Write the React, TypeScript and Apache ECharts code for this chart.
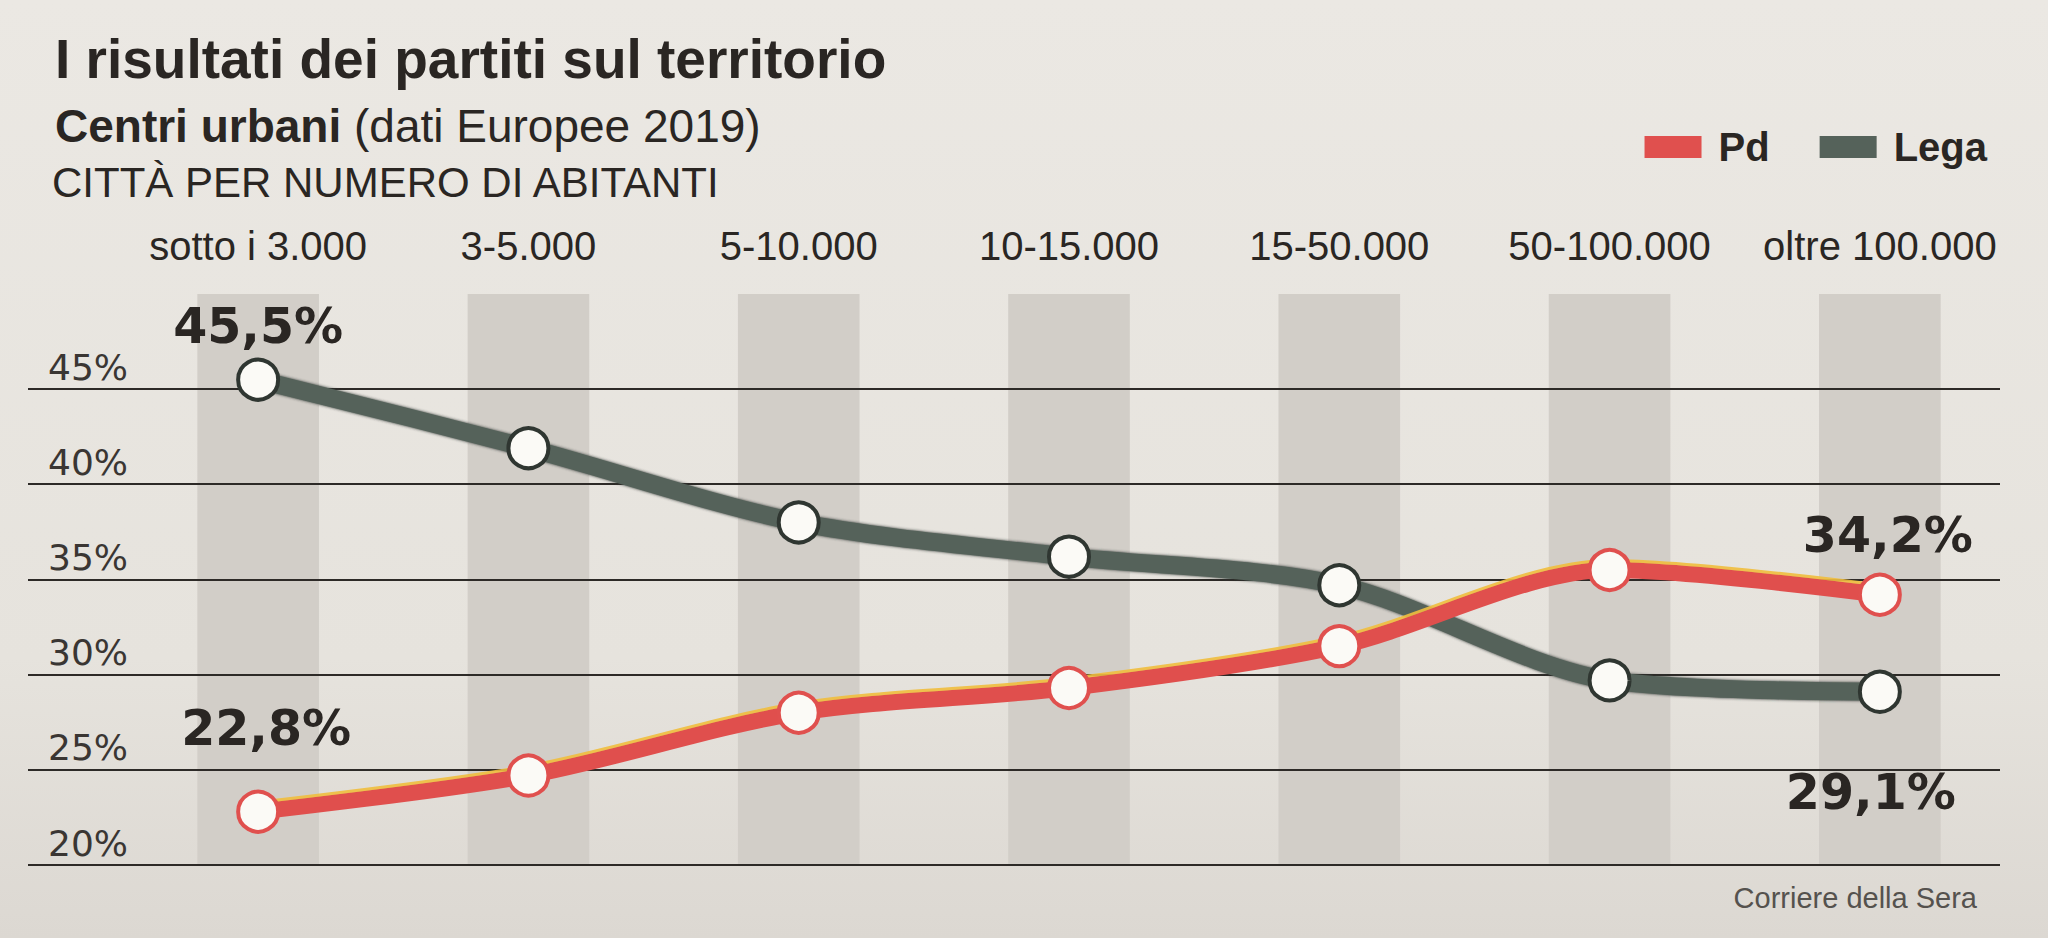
import React, { useEffect, useRef } from "react";
import * as echarts from "echarts";

const categories = ["sotto i 3.000", "3-5.000", "5-10.000", "10-15.000", "15-50.000", "50-100.000", "oltre 100.000"];
const pdValues = [22.8, 24.7, 28.0, 29.3, 31.5, 35.5, 34.2];
const legaValues = [45.5, 41.9, 38.0, 36.2, 34.7, 29.7, 29.1];
const yMin = 20;
const yMax = 45;
const yStep = 5;
const bandTop = 50;

const TEXT = "#2a2623";
const PD_RED = "#e0504e";
const LEGA_GREEN = "#55625a";
const LEGA_DARK = "#2f3631";

const fmt = (v: number) => v.toFixed(1).replace(".", ",") + "%";

export default function App() {
  const ref = useRef<HTMLDivElement>(null);
  useEffect(() => {
    document.body.style.margin = "0";
    const chart = echarts.init(ref.current!, null, { renderer: "svg" });
    const labelBase = {
      show: true,
      formatter: (p: any) => fmt(p.value),
      fontFamily: "DejaVu Sans",
      fontWeight: "bold",
      fontSize: 49,
      lineHeight: 50,
      color: TEXT,
    };
    const pdData = pdValues.map((v, i) => {
      if (i === 0) return { value: v, label: { ...labelBase, position: "top", distance: 36, offset: [8, 0] } };
      if (i === pdValues.length - 1) return { value: v, label: { ...labelBase, position: "top", distance: 12, offset: [8, 0] } };
      return v;
    });
    const legaData = legaValues.map((v, i) => {
      if (i === 0) return { value: v, label: { ...labelBase, position: "top", distance: 6 } };
      if (i === legaValues.length - 1) return { value: v, label: { ...labelBase, position: "bottom", distance: 54, offset: [-9, 0] } };
      return v;
    });
    chart.setOption({
      animation: false,
      backgroundColor: "transparent",
      title: [
        {
          text: "I risultati dei partiti sul territorio",
          left: 50,
          top: 24,
          textStyle: { fontFamily: "Liberation Sans", fontWeight: "bold", fontSize: 55, color: TEXT, lineHeight: 60 },
        },
        {
          text: "{b|Centri urbani }{r|(dati Europee 2019)}",
          left: 50,
          top: 96,
          textStyle: {
            rich: {
              b: { fontFamily: "Liberation Sans", fontWeight: "bold", fontSize: 46, color: TEXT, lineHeight: 50 },
              r: { fontFamily: "Liberation Sans", fontWeight: "normal", fontSize: 46, color: TEXT, lineHeight: 50 },
            },
          },
        },
        {
          text: "CITTÀ PER NUMERO DI ABITANTI",
          left: 47,
          top: 154,
          textStyle: { fontFamily: "Liberation Sans", fontWeight: "normal", fontSize: 42, color: TEXT, lineHeight: 46 },
        },
        {
          text: "Corriere della Sera",
          right: 66,
          top: 878,
          textStyle: { fontFamily: "Liberation Sans", fontWeight: "normal", fontSize: 29, color: "#55524e" },
        },
      ],
      legend: {
        data: [
          { name: "Pd", itemStyle: { color: PD_RED, borderWidth: 0 } },
          { name: "Lega", itemStyle: { color: LEGA_GREEN, borderWidth: 0 } },
        ],
        right: 56,
        top: 122,
        itemWidth: 57,
        itemHeight: 22,
        itemGap: 50,
        icon: "rect",
        textStyle: { fontFamily: "Liberation Sans", fontWeight: "bold", fontSize: 40, color: TEXT, padding: [0, 0, 0, 12] },
      },
      grid: [
        { left: 28, right: 48, top: 389, bottom: 73 },
        { left: 123, right: 33, top: 294, bottom: 73 },
      ],
      xAxis: [
        { type: "value", gridIndex: 0, show: false, min: 0, max: 1 },
        {
          type: "category",
          gridIndex: 1,
          data: categories,
          position: "top",
          boundaryGap: true,
          axisLine: { show: false },
          axisTick: { show: false },
          axisLabel: { fontFamily: "Liberation Sans", fontSize: 40, color: TEXT, margin: 28, interval: 0 },
        },
      ],
      yAxis: [
        {
          type: "value",
          gridIndex: 0,
          min: yMin,
          max: yMax,
          interval: yStep,
          z: 4,
          axisLine: { show: false },
          axisTick: { show: false },
          splitLine: { show: true, lineStyle: { color: "#2d2a27", width: 2 } },
          axisLabel: {
            inside: true,
            margin: 20,
            fontFamily: "DejaVu Sans",
            fontSize: 36,
            color: "#3a3633",
            verticalAlign: "bottom",
            padding: [0, 0, 4, 0],
            formatter: (v: number) => v + "%",
          },
        },
        { type: "value", gridIndex: 1, min: yMin, max: bandTop, show: false },
      ],
      series: [
        {
          name: "bands",
          type: "bar",
          xAxisIndex: 1,
          yAxisIndex: 1,
          data: categories.map(() => bandTop),
          barWidth: "45%",
          silent: true,
          z: 1,
          itemStyle: { color: "#d2cec8" },
        },
        {
          name: "Lega",
          type: "line",
          xAxisIndex: 1,
          yAxisIndex: 1,
          data: legaData,
          smooth: 0.3,
          clip: false,
          z: 6,
          symbol: "circle",
          symbolSize: 40,
          lineStyle: { color: LEGA_GREEN, width: 18, shadowColor: LEGA_DARK, shadowBlur: 3 },
          itemStyle: { color: "#fbfaf6", borderColor: LEGA_DARK, borderWidth: 4 },
          label: { show: false },
        },
        {
          name: "Pd",
          type: "line",
          xAxisIndex: 1,
          yAxisIndex: 1,
          data: pdData,
          smooth: 0.3,
          clip: false,
          z: 8,
          symbol: "circle",
          symbolSize: 40,
          lineStyle: { color: PD_RED, width: 16, shadowColor: "rgba(240,190,60,0.9)", shadowOffsetY: -3, shadowBlur: 0 },
          itemStyle: { color: "#fbfaf6", borderColor: PD_RED, borderWidth: 4 },
          label: { show: false },
        },
      ],
    });
    return () => chart.dispose();
  }, []);
  return (
    <div
      ref={ref}
      style={{
        position: "fixed",
        left: 0,
        top: 0,
        width: 2048,
        height: 938,
        background: "linear-gradient(180deg, #ebe8e3 0%, #e6e3dd 70%, #dcd8d2 100%)",
      }}
    />
  );
}
